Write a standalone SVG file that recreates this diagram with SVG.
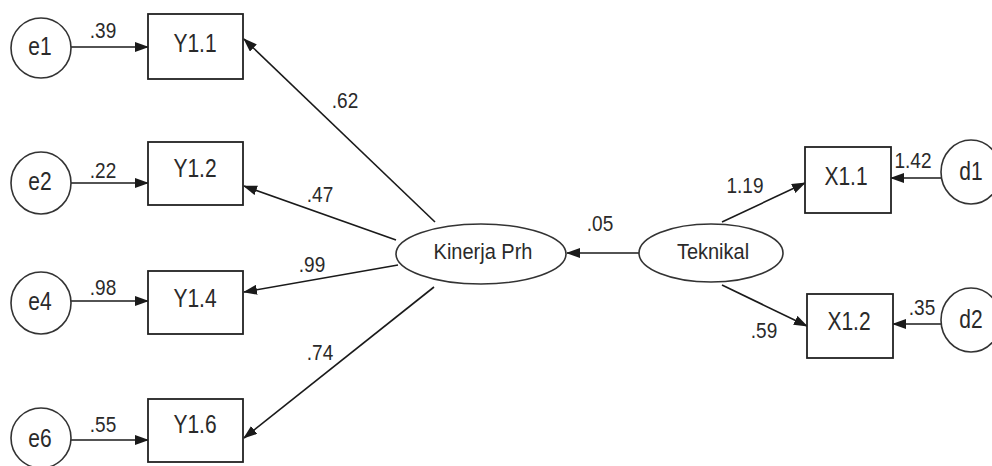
<svg xmlns="http://www.w3.org/2000/svg" width="992" height="466" viewBox="0 0 992 466">
<defs>
<marker id="ah" markerUnits="userSpaceOnUse" markerWidth="14" markerHeight="10" viewBox="0 0 14 10" refX="13" refY="5" orient="auto">
<path d="M0,0 L14,5 L0,10 Z" fill="#1a1a1a"/>
</marker>
</defs>
<style>
.bg{fill:#ffffff}
.nd{fill:#ffffff;stroke:#333333;stroke-width:1.6}
.bx{fill:#ffffff;stroke:#222222;stroke-width:1.8}
.t{font-family:"Liberation Sans",Arial,sans-serif;font-size:21px;fill:#2a2a2a;text-anchor:middle}
.l{font-family:"Liberation Sans",Arial,sans-serif;font-size:19px;fill:#2a2a2a;text-anchor:middle}
.c{stroke:#1a1a1a;stroke-width:1.6;fill:none;marker-end:url(#ah)}
</style>
<rect class="bg" x="0" y="0" width="992" height="466"/>
<g id="connectors">
<line class="c" x1="71" y1="47" x2="148" y2="47"/>
<line class="c" x1="71" y1="183" x2="148" y2="183"/>
<line class="c" x1="71" y1="301" x2="148" y2="301"/>
<line class="c" x1="71" y1="440" x2="148" y2="440"/>
<line class="c" x1="435" y1="222" x2="244" y2="39"/>
<line class="c" x1="396" y1="240" x2="244" y2="186"/>
<line class="c" x1="398" y1="265" x2="244" y2="292"/>
<line class="c" x1="434" y1="287" x2="244" y2="438"/>
<line class="c" x1="639" y1="253" x2="567" y2="253"/>
<line class="c" x1="722" y1="222" x2="805" y2="183"/>
<line class="c" x1="722" y1="285" x2="807" y2="326"/>
<line class="c" x1="941" y1="178" x2="891" y2="178"/>
<line class="c" x1="941" y1="324" x2="893" y2="324"/>
<text class="l" transform="translate(103,38) scale(1,1.18)">.39</text>
<text class="l" transform="translate(103,178) scale(1,1.18)">.22</text>
<text class="l" transform="translate(103,295) scale(1,1.18)">.98</text>
<text class="l" transform="translate(103,432) scale(1,1.18)">.55</text>
<text class="l" transform="translate(345,108) scale(1,1.18)">.62</text>
<text class="l" transform="translate(320,202) scale(1,1.18)">.47</text>
<text class="l" transform="translate(312,272) scale(1,1.18)">.99</text>
<text class="l" transform="translate(320,360) scale(1,1.18)">.74</text>
<text class="l" transform="translate(600,231) scale(1,1.18)">.05</text>
<text class="l" transform="translate(745,193) scale(1,1.18)">1.19</text>
<text class="l" transform="translate(764,338) scale(1,1.18)">.59</text>
<text class="l" transform="translate(913,168) scale(1,1.18)">1.42</text>
<text class="l" transform="translate(922,315) scale(1,1.18)">.35</text>
</g>
<g id="e1"><ellipse class="nd" cx="41" cy="48" rx="30" ry="30"/><text class="t" transform="translate(40,55) scale(1,1.2)">e1</text></g>
<g id="e2"><ellipse class="nd" cx="41" cy="183" rx="30" ry="31"/><text class="t" transform="translate(40,190) scale(1,1.2)">e2</text></g>
<g id="e4"><ellipse class="nd" cx="41" cy="303" rx="30" ry="31"/><text class="t" transform="translate(40,310) scale(1,1.2)">e4</text></g>
<g id="e6"><ellipse class="nd" cx="41" cy="438" rx="30" ry="30"/><text class="t" transform="translate(40,447) scale(1,1.2)">e6</text></g>
<g id="Y1.1"><rect class="bx" x="148" y="14" width="95" height="65"/><text class="t" transform="translate(195,52) scale(1,1.2)">Y1.1</text></g>
<g id="Y1.2"><rect class="bx" x="148" y="142" width="95" height="63"/><text class="t" transform="translate(195,177) scale(1,1.2)">Y1.2</text></g>
<g id="Y1.4"><rect class="bx" x="148" y="271" width="95" height="63"/><text class="t" transform="translate(195,307) scale(1,1.2)">Y1.4</text></g>
<g id="Y1.6"><rect class="bx" x="148" y="399" width="95" height="63"/><text class="t" transform="translate(195,433) scale(1,1.2)">Y1.6</text></g>
<g id="KinerjaPrh"><ellipse class="nd" cx="481" cy="254" rx="85" ry="30"/><text class="t" style="font-size:20px" transform="translate(483,259) scale(1,1.08)">Kinerja Prh</text></g>
<g id="Teknikal"><ellipse class="nd" cx="711" cy="253" rx="72" ry="29"/><text class="t" style="font-size:20px" transform="translate(713,259) scale(1,1.08)">Teknikal</text></g>
<g id="X1.1"><rect class="bx" x="805" y="147" width="86" height="66"/><text class="t" transform="translate(846,185) scale(1,1.2)">X1.1</text></g>
<g id="X1.2"><rect class="bx" x="807" y="294" width="86" height="64"/><text class="t" transform="translate(849,330) scale(1,1.2)">X1.2</text></g>
<g id="d1"><ellipse class="nd" cx="971" cy="172" rx="30" ry="32"/><text class="t" transform="translate(971,180) scale(1,1.2)">d1</text></g>
<g id="d2"><ellipse class="nd" cx="971" cy="320" rx="30" ry="32"/><text class="t" transform="translate(971,328) scale(1,1.2)">d2</text></g>
</svg>
